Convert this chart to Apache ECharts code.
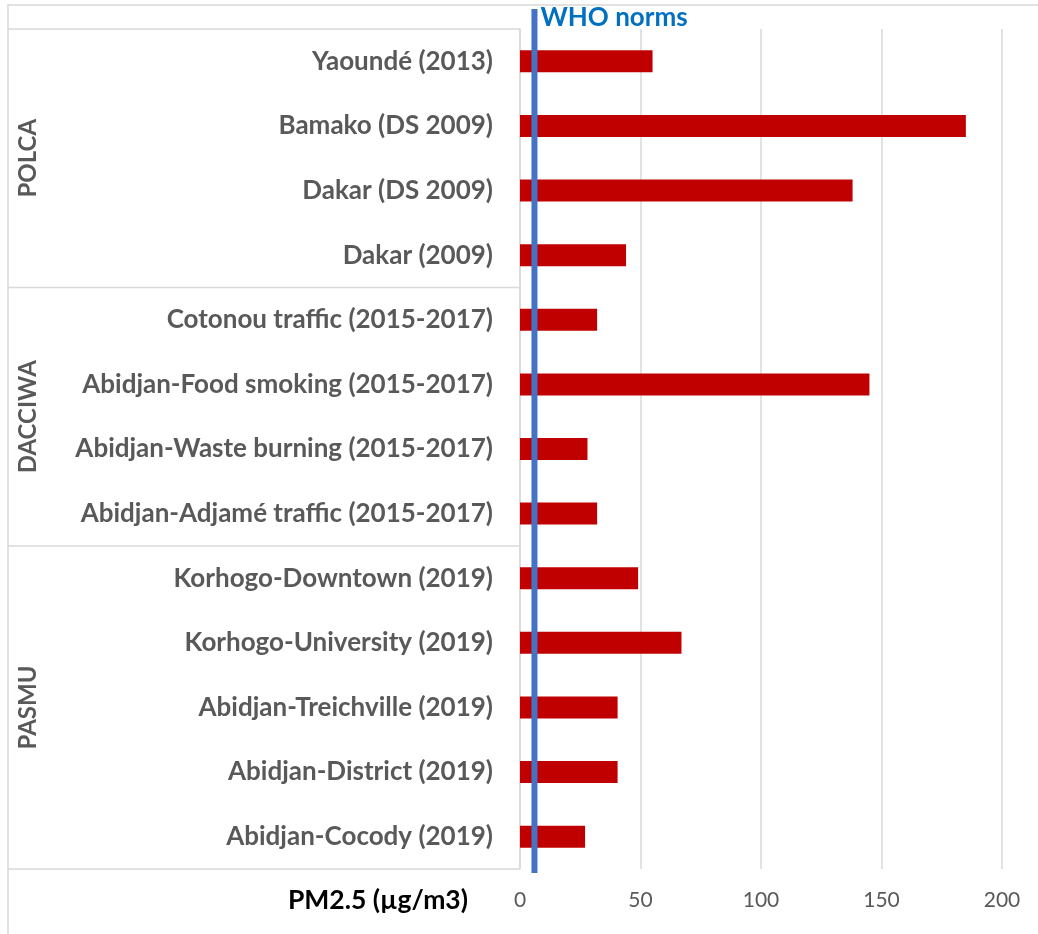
<!DOCTYPE html>
<html>
<head>
<meta charset="utf-8">
<script src="https://cdn.jsdelivr.net/npm/echarts@6/dist/echarts.min.js"></script>
<style>
  html, body { margin: 0; padding: 0; background: #fff; }
  #chart { width: 1038px; height: 934px; }
</style>
</head>
<body>
<div id="chart"></div>
<script>
// Measurement sites, top to bottom
const sites = [
  'Yaoundé (2013)',
  'Bamako (DS 2009)',
  'Dakar (DS 2009)',
  'Dakar (2009)',
  'Cotonou traffic (2015-2017)',
  'Abidjan-Food smoking (2015-2017)',
  'Abidjan-Waste burning (2015-2017)',
  'Abidjan-Adjamé traffic (2015-2017)',
  'Korhogo-Downtown (2019)',
  'Korhogo-University (2019)',
  'Abidjan-Treichville (2019)',
  'Abidjan-District (2019)',
  'Abidjan-Cocody (2019)'
];
// PM2.5 concentrations (µg/m3)
const pm25 = [55, 185, 138, 44, 32, 145, 28, 32, 49, 67, 40.5, 40.5, 27];
// Programme groups and how many sites each covers
const groups = ['POLCA', 'DACCIWA', 'PASMU'];
const groupSizes = [4, 4, 5];
// WHO guideline level
const whoNorm = 6;
const whoLabel = 'WHO norms';
const axisTitle = 'PM2.5 (µg/m3)';
const xTicks = [0, 50, 100, 150, 200];

const FONT = 'Lato, "Open Sans", sans-serif';
const chart = echarts.init(document.getElementById('chart'));

chart.setOption({
  animation: false,
  grid: { left: 520, top: 29, width: 482, height: 840, containLabel: false },
  xAxis: {
    type: 'value',
    min: xTicks[0],
    max: xTicks[xTicks.length - 1],
    interval: xTicks[1] - xTicks[0],
    axisLine: { show: false },
    axisTick: { show: false },
    splitLine: { lineStyle: { color: '#d9d9d9', width: 1.5 } },
    axisLabel: { color: '#595959', fontSize: 21, fontFamily: FONT, margin: 21 }
  },
  yAxis: {
    type: 'category',
    inverse: true,
    data: sites,
    axisLine: { show: true, lineStyle: { color: '#d9d9d9', width: 1.5 } },
    axisTick: { show: false },
    axisLabel: { color: '#595959', fontSize: 26, fontWeight: 'bold', fontFamily: FONT, margin: 27 }
  },
  series: [{
    type: 'bar',
    data: pm25,
    barWidth: 22,
    itemStyle: { color: '#C00000' },
    z: 2
  }]
});

// Category table lines, group names, WHO line and axis title
function drawOverlay() {
  const c0 = chart.convertToPixel({ yAxisIndex: 0 }, 0);
  const c1 = chart.convertToPixel({ yAxisIndex: 0 }, 1);
  const band = c1 - c0;
  const top = c0 - band / 2;
  const axisX = chart.convertToPixel({ xAxisIndex: 0 }, 0);
  const whoX = chart.convertToPixel({ xAxisIndex: 0 }, whoNorm);
  const leftX = 8;
  const lineStyle = { stroke: '#d9d9d9', lineWidth: 1.5 };
  const g = [];

  // outer frame
  g.push({ type: 'rect', shape: { x: leftX, y: 5, width: 1200, height: 1200 },
           style: { fill: null, stroke: '#d9d9d9', lineWidth: 1.5 }, z: 0 });

  // group separators and labels
  let start = 0;
  g.push({ type: 'line', shape: { x1: leftX, y1: top, x2: axisX, y2: top }, style: lineStyle });
  groups.forEach((name, i) => {
    const end = start + groupSizes[i];
    const yEnd = top + end * band;
    g.push({ type: 'line', shape: { x1: leftX, y1: yEnd, x2: axisX, y2: yEnd }, style: lineStyle });
    const yMid = top + (start + end) / 2 * band;
    g.push({
      type: 'text', x: 28, y: yMid, rotation: Math.PI / 2,
      style: { text: name, fill: '#595959', font: 'bold 24px ' + FONT, align: 'center', verticalAlign: 'middle' }
    });
    start = end;
  });

  // WHO guideline
  g.push({ type: 'line', shape: { x1: whoX, y1: 9, x2: whoX, y2: top + sites.length * band + 4 },
           style: { stroke: '#4472C4', lineWidth: 6 }, z: 10 });
  g.push({ type: 'text', x: whoX + 6, y: 18,
           style: { text: whoLabel, fill: '#0070C0', font: 'bold 26px ' + FONT, align: 'left', verticalAlign: 'middle' }, z: 10 });

  // value axis title
  g.push({ type: 'text', x: 468, y: 900,
           style: { text: axisTitle, fill: '#000', font: 'bold 26.5px ' + FONT, align: 'right', verticalAlign: 'middle' } });

  chart.setOption({ graphic: g });
}
drawOverlay();
</script>
</body>
</html>
